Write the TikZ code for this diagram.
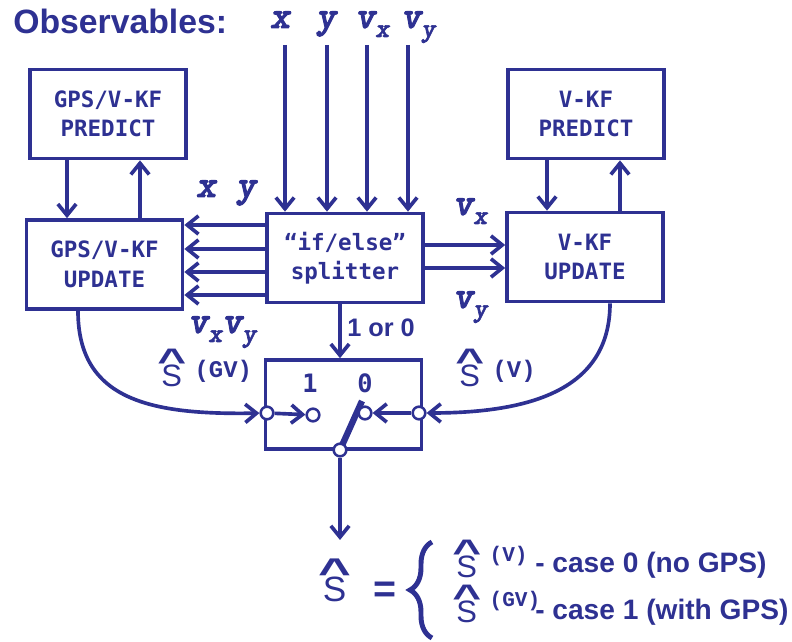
\documentclass[tikz,border=0pt]{standalone}
\usepackage{fontspec}
\setmainfont{Liberation Sans}
\newfontfamily\boxfont{DejaVu Sans Mono}
\newfontfamily\supmono{Liberation Mono}
\newfontfamily\obsfont{lmmonolt10}[Extension=.otf, UprightFont=*-regular, BoldFont=*-bold, ItalicFont=*-oblique, BoldItalicFont=*-boldoblique, BoldItalicFeatures={FakeBold=2.5}]
\usepackage{xcolor}
\usetikzlibrary{arrows.meta, decorations.pathreplacing}
\definecolor{navy}{RGB}{46,49,146}
\newcommand{\Shat}{\vbox{\offinterlineskip\halign{\hfil##\hfil\cr\scalebox{1.6}[1.1]{\bfseries\textasciicircum}\cr\noalign{\kern-0.22em}S\cr}}}
\newcommand{\supfont}{\supmono\bfseries\upshape}
\newcommand{\Shatsup}[3]{\Shat\hspace{6pt}\raisebox{#1}{\supfont\fontsize{#2}{#2}\selectfont #3}}
\newcommand{\vsub}[1]{v\raisebox{-0.55ex}{\fontsize{19}{19}\selectfont #1}}
\tikzset{
  box/.style={rectangle, draw=navy, line width=2.6pt, align=center, minimum width=3.9cm, minimum height=2.225cm, text=navy, font=\boxfont\bfseries\fontsize{16}{21}\selectfont},
  line/.style={draw=navy, line width=2.6pt, -{Straight Barb[length=8pt, width=13pt]}},
  port/.style={circle, draw=navy, fill=white, line width=1.8pt, minimum size=9pt, inner sep=0pt},
  lever/.style={draw=navy, line width=4.5pt},
  headline/.style={text=navy, inner sep=0pt, font=\bfseries\fontsize{24}{24}\selectfont},
  obs/.style={text=navy, inner sep=0pt, font=\obsfont\bfseries\itshape\fontsize{27}{27}\selectfont},
  lab/.style={text=navy, inner sep=0pt, font=\fontsize{22}{22}\selectfont},
  eqtext/.style={text=navy, inner sep=0pt, font=\fontsize{25}{25}\selectfont},
  sig/.style={text=navy, inner sep=0pt, font=\bfseries\fontsize{18}{18}\selectfont},
  digit/.style={text=navy, inner sep=0pt, font=\boxfont\bfseries\fontsize{18}{18}\selectfont},
  casetxt/.style={text=navy, inner sep=0pt, font=\bfseries\fontsize{20}{20}\selectfont},
  bigbrace/.style={draw=navy, line width=3.5pt, decorate, decoration={brace, amplitude=0.55cm}}
}

\begin{document}
\begin{tikzpicture}[x=0.025cm, y=-0.025cm]
    \useasboundingbox (0,0) rectangle (792,642);
    % filters and splitter
    \node[box] (gpspred) at (108,114) {GPS/V-KF\\PREDICT};
    \node[box] (gpsupd) at (104.5,264.5) {GPS/V-KF\\UPDATE};
    \node[box] (split) at (345,258) {“if/else”\\splitter};
    \node[box] (vpred) at (586,114) {V-KF\\PREDICT};
    \node[box] (vupd) at (585,257) {V-KF\\UPDATE};
    \node[box] (sw) at (343.5,404.5) {};
    % observables
    \node[headline, anchor=base west] (obs) at (13,34) {Observables:};
    \node[obs, anchor=base] (ox) at (280,28) {x};
    \node[obs, anchor=base] (oy) at (326,28) {y};
    \node[obs, anchor=base west] (ovx) at (355,28) {\vsub{x}};
    \node[obs, anchor=base west] (ovy) at (401,28) {\vsub{y}};
    \coordinate (in1) at (285,45);
    \coordinate (in2) at (327,45);
    \coordinate (in3) at (367,45);
    \coordinate (in4) at (408,45);
    \draw[line] (in1) -- (in1 |- split.north);
    \draw[line] (in2) -- (in2 |- split.north);
    \draw[line] (in3) -- (in3 |- split.north);
    \draw[line] (in4) -- (in4 |- split.north);
    % splitter outputs
    \coordinate (o1) at (0,225);
    \coordinate (o2) at (0,249);
    \coordinate (o3) at (0,272);
    \coordinate (o4) at (0,295);
    \draw[line] (split.west |- o1) -- (gpsupd.east |- o1);
    \draw[line] (split.west |- o2) -- (gpsupd.east |- o2);
    \draw[line] (split.west |- o3) -- (gpsupd.east |- o3);
    \draw[line] (split.west |- o4) -- (gpsupd.east |- o4);
    \coordinate (r1) at (0,245);
    \coordinate (r2) at (0,268);
    \draw[line] (split.east |- r1) -- (vupd.west |- r1);
    \draw[line] (split.east |- r2) -- (vupd.west |- r2);
    \node[obs, anchor=base] (lxy) at (226,197) {x y};
    \node[obs, anchor=base west] (lvxy) at (188,333) {\vsub{x}\vsub{y}};
    \node[obs, anchor=base west] (rvx) at (453,215) {\vsub{x}};
    \node[obs, anchor=base west] (rvy) at (453,308) {\vsub{y}};
    % predict / update loops
    \coordinate (gx1) at (67,0);
    \coordinate (gx2) at (140,0);
    \coordinate (vx1) at (547,0);
    \coordinate (vx2) at (620,0);
    \draw[line] (gpspred.south -| gx1) -- (gpsupd.north -| gx1);
    \draw[line] (gpsupd.north -| gx2) -- (gpspred.south -| gx2);
    \draw[line] (vpred.south -| vx1) -- (vupd.north -| vx1);
    \draw[line] (vupd.north -| vx2) -- (vpred.south -| vx2);
    % switch
    \coordinate (comc) at (340,450);
    \coordinate (levtip) at (362,401);
    \draw[lever] (comc) -- (levtip);
    \node[port] (gvin) at (267,413) {};
    \node[port] (pos1) at (313,415) {};
    \node[port] (pos0) at (365,413) {};
    \node[port] (vin) at (419,413) {};
    \node[port] (com) at (comc) {};
    \node[digit, anchor=base] (d1) at (310,393) {1};
    \node[digit, anchor=base] (d0) at (365,393) {0};
    \draw[line] (gvin) -- (pos1);
    \draw[line] (vin) -- (pos0);
    \draw[line] (split.south -| com) -- (sw.north -| com);
    \node[sig, anchor=base west] (sel) at (347,337) {1 or 0};
    % estimates into the switch
    \coordinate (lc) at (78,0);
    \coordinate (rc) at (610,0);
    \draw[line] (gpsupd.south -| lc) .. controls (78,400) and (150,415) .. (gvin);
    \draw[line] (vupd.south -| rc) .. controls (610,390) and (530,413) .. (vin);
    \node[lab, anchor=base west] (sgv) at (157,387) {\Shatsup{7pt}{17}{(GV)}};
    \node[lab, anchor=base west] (sv) at (455,387) {\Shatsup{7pt}{17}{(V)}};
    % output
    \coordinate (sout) at (340,540);
    \draw[line] (com) -- (sout);
    \node[eqtext, anchor=base west] (shat) at (318,602) {\Shat};
    \node[casetxt, anchor=base, font=\bfseries\fontsize{28}{28}\selectfont] (eqs) at (385,603) {=};
    \coordinate (bb) at (432,638);
    \coordinate (bt) at (432,542);
    \draw[bigbrace] (bb) -- (bt);
    \node[lab, anchor=base west] (s0) at (452,578) {\Shatsup{12pt}{15}{(V)}};
    \node[casetxt, anchor=base west] (case0) at (535,573) {- case 0 (no GPS)};
    \node[lab, anchor=base west] (s1) at (452,623) {\Shatsup{12pt}{15}{(GV)}};
    \node[casetxt, anchor=base west] (case1) at (535,620) {- case 1 (with GPS)};
\end{tikzpicture}
\end{document}
